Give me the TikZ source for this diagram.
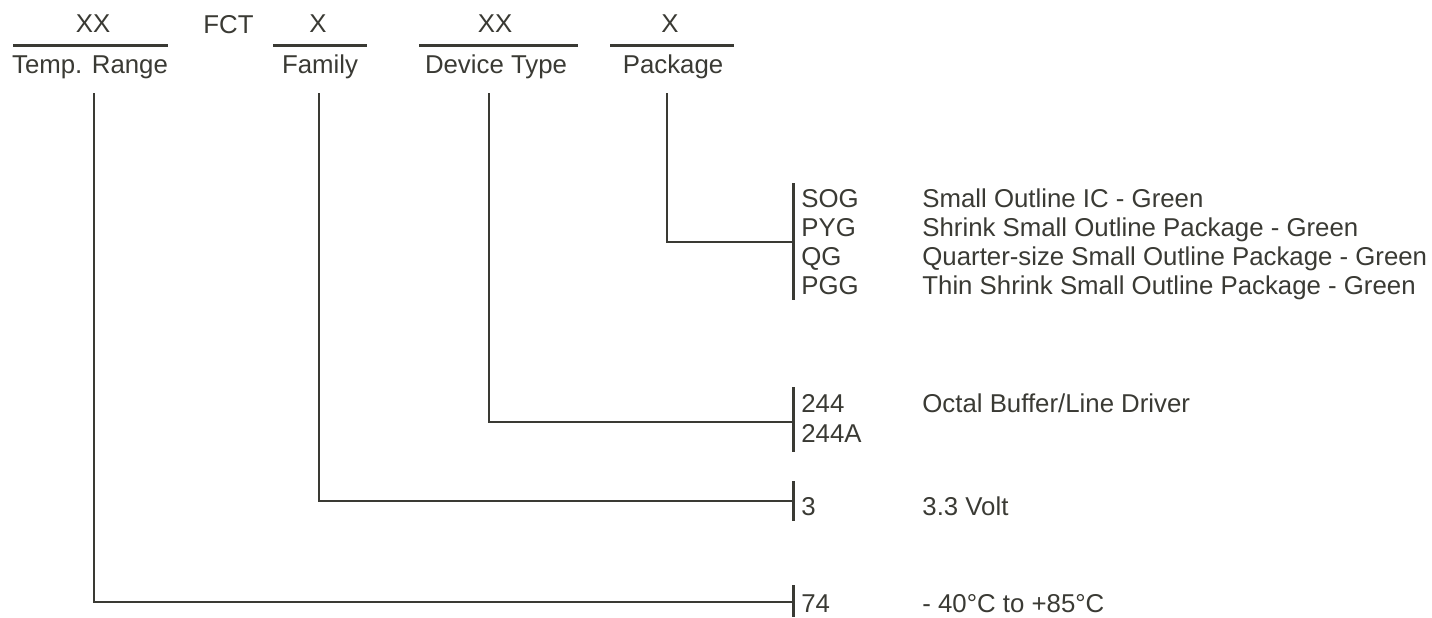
\documentclass[tikz,border=0pt]{standalone}
\usepackage{fontspec}
\setmainfont{Liberation Sans}
\usepackage{tikz}
\usetikzlibrary{positioning}
\definecolor{PnInk}{RGB}{58,58,52}
\tikzset{
  pn/field/.style={
    anchor=base,
    inner sep=0pt,
    text=PnInk,
    font=\fontsize{12.9}{14.5}\selectfont
  },
  pn/code/.style={
    anchor=base west,
    inner sep=0pt,
    text=PnInk,
    font=\fontsize{12.9}{14.5}\selectfont
  },
  pn/rule/.style={draw=PnInk, line width=1.5pt},
  pn/wire/.style={draw=PnInk, line width=1.4pt},
  pn/bar/.style={draw=PnInk, line width=1.5pt}
}
\begin{document}
\begin{tikzpicture}[x=0.5pt,y=-0.5pt]
  \useasboundingbox (0,0) rectangle (1432,617);
  % header fields
  \node[pn/field] (rangeval) at (93,32) {XX};
  \node[pn/field] (range) at (90,73) {Temp. Range};
  \node[pn/field,anchor=base west] (fct) at (203,33) {FCT};
  \node[pn/field] (famval) at (318,32) {X};
  \node[pn/field] (family) at (320,73) {Family};
  \node[pn/field] (devval) at (495,32) {XX};
  \node[pn/field] (device) at (496,73) {Device Type};
  \node[pn/field] (pkgval) at (670,32) {X};
  \node[pn/field] (package) at (673,73) {Package};
  \draw[pn/rule] (13,45) -- (168,45);
  \draw[pn/rule] (273,45) -- (367,45);
  \draw[pn/rule] (419,45) -- (578,45);
  \draw[pn/rule] (610,45) -- (734,45);
  % drop points and bars
  \coordinate (rangetop) at (94,93);
  \coordinate (famtop) at (319,93);
  \coordinate (devtop) at (489,93);
  \coordinate (pkgtop) at (667,93);
  \coordinate (pkgbar) at (793,242);
  \coordinate (devbar) at (793,422);
  \coordinate (fambar) at (793,501);
  \coordinate (rangebar) at (793,602);
  \draw[pn/bar] (793,183) -- (793,300);
  \draw[pn/bar] (793,387) -- (793,452);
  \draw[pn/bar] (793,481) -- (793,521);
  \draw[pn/bar] (793,585) -- (793,617);
  \draw[pn/wire] (pkgtop) |- (pkgbar);
  \draw[pn/wire] (devtop) |- (devbar);
  \draw[pn/wire] (famtop) |- (fambar);
  \draw[pn/wire] (rangetop) |- (rangebar);
  % package codes
  \node[pn/code] (sog) at (801,207) {SOG};
  \node[pn/code] (pyg) at (801,236) {PYG};
  \node[pn/code] (qg) at (801,265) {QG};
  \node[pn/code] (pgg) at (801,294) {PGG};
  \node[pn/code] (sogtxt) at (922,207) {Small Outline IC - Green};
  \node[pn/code] (pygtxt) at (922,236) {Shrink Small Outline Package - Green};
  \node[pn/code] (qgtxt) at (922,265) {Quarter-size Small Outline Package - Green};
  \node[pn/code] (pggtxt) at (922,294) {Thin Shrink Small Outline Package - Green};
  % device type
  \node[pn/code] (d244) at (801,412) {244};
  \node[pn/code] (d244a) at (801,442) {244A};
  \node[pn/code] (d244txt) at (922,412) {Octal Buffer/Line Driver};
  % family
  \node[pn/code] (f3) at (801,515) {3};
  \node[pn/code] (f3txt) at (922,515) {3.3 Volt};
  % temperature range
  \node[pn/code] (t74) at (801,612) {74};
  \node[pn/code] (t74txt) at (922,612) {- 40°C to +85°C};
\end{tikzpicture}
\end{document}
